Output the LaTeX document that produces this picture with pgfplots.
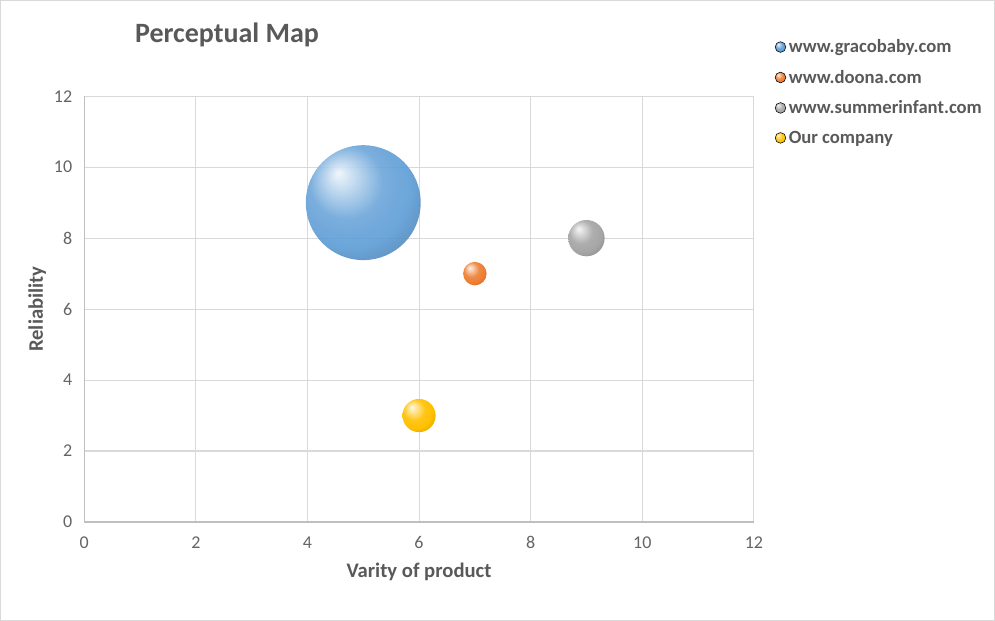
\documentclass[border=0pt]{standalone}
\usepackage{pgfplots}
\pgfplotsset{compat=1.18}
\usepackage{fontspec}
\setmainfont{Carlito}
\definecolor{txt}{RGB}{89,89,89}
\definecolor{tickc}{RGB}{100,100,100}
\definecolor{gridc}{RGB}{217,217,217}
\definecolor{axc}{RGB}{191,191,191}
\definecolor{cblue}{RGB}{91,155,213}
\definecolor{corange}{RGB}{237,125,49}
\definecolor{cgrey}{RGB}{165,165,165}
\definecolor{cgold}{RGB}{255,192,0}
\newcommand\declball[2]{%
  \pgfdeclareradialshading{sh#1}{\pgfqpoint{-11bp}{13bp}}{%
    color(0bp)=(#2!10!white); color(6bp)=(#2!40!white); color(16bp)=(#2!90!white);
    color(26bp)=(#2); color(38bp)=(#2!78!black); color(50bp)=(#2!62!black)}%
  \pgfdeclareplotmark{mk#1}{\pgfpathcircle{\pgfpointorigin}{\pgfplotmarksize}\pgfshadepath{sh#1}{0}\pgfusepath{discard}}%
}
\declball{blue}{cblue}
\declball{orange}{corange}
\declball{grey}{cgrey}
\declball{gold}{cgold}
\begin{document}
\begin{tikzpicture}
\path[draw=gridc] (0,0) rectangle (746.25pt,465pt);
\begin{axis}[
  at={(63pt,73.5pt)}, anchor=south west,
  scale only axis, width=502.5pt, height=319.5pt,
  xmin=0, xmax=12, ymin=0, ymax=12,
  xtick={0,2,...,12}, ytick={0,2,...,12},
  grid=major, major grid style={draw=gridc, line width=0.8pt},
  axis line style={draw=axc, line width=0.8pt},
  axis x line*=bottom, axis y line*=left,
  tick style={draw=none},
  tick label style={font=\fontsize{13.5}{15}\selectfont, text=tickc},
  xticklabel style={yshift=-7.5pt},
  yticklabel style={xshift=-5.5pt},
  /pgf/number format/assume math mode=true,
  xlabel={Varity of product}, ylabel={Reliability},
  xlabel style={font=\bfseries\fontsize{15.5}{18}\selectfont, text=txt, at={(axis description cs:0.5,-0.117)}, anchor=center},
  ylabel style={font=\bfseries\fontsize{15.5}{18}\selectfont, text=txt, at={(axis description cs:-0.070,0.5)}, anchor=center},
  title={Perceptual Map},
  title style={font=\bfseries\fontsize{21}{25}\selectfont, text=txt, at={(axis description cs:0.069,1.125)}, anchor=west},
  legend style={at={(axis description cs:1.031,1.14)}, anchor=north west, draw=none, fill=none,
    font=\bfseries\fontsize{14}{16}\selectfont, text=txt, row sep=7.5pt, inner sep=0pt},
  legend cell align=left,
  clip=false,
]
\addplot[only marks, mark=mkblue, scatter, scatter/use mapped color={draw=none},
  mark options={fill opacity=0.9},
  visualization depends on={8.8*sqrt(\thisrow{s}) \as \rad},
  scatter/@pre marker code/.append style={/tikz/mark size=\rad},
  legend image code/.code={\shade[shading=shblue] (0.3em,0) circle (4pt);}]
  table {
x y s
5 9 24
};
\addlegendentry{www.gracobaby.com}
\addplot[only marks, mark=mkorange, scatter, scatter/use mapped color={draw=none},
  visualization depends on={8.8*sqrt(\thisrow{s}) \as \rad},
  scatter/@pre marker code/.append style={/tikz/mark size=\rad},
  legend image code/.code={\shade[shading=shorange] (0.3em,0) circle (4pt);}]
  table {
x y s
7 7 1
};
\addlegendentry{www.doona.com}
\addplot[only marks, mark=mkgrey, scatter, scatter/use mapped color={draw=none},
  visualization depends on={8.8*sqrt(\thisrow{s}) \as \rad},
  scatter/@pre marker code/.append style={/tikz/mark size=\rad},
  legend image code/.code={\shade[shading=shgrey] (0.3em,0) circle (4pt);}]
  table {
x y s
9 8 2.4
};
\addlegendentry{www.summerinfant.com}
\addplot[only marks, mark=mkgold, scatter, scatter/use mapped color={draw=none},
  visualization depends on={8.8*sqrt(\thisrow{s}) \as \rad},
  scatter/@pre marker code/.append style={/tikz/mark size=\rad},
  legend image code/.code={\shade[shading=shgold] (0.3em,0) circle (4pt);}]
  table {
x y s
6 3 2
};
\addlegendentry{Our company}
\end{axis}
\end{tikzpicture}
\end{document}
